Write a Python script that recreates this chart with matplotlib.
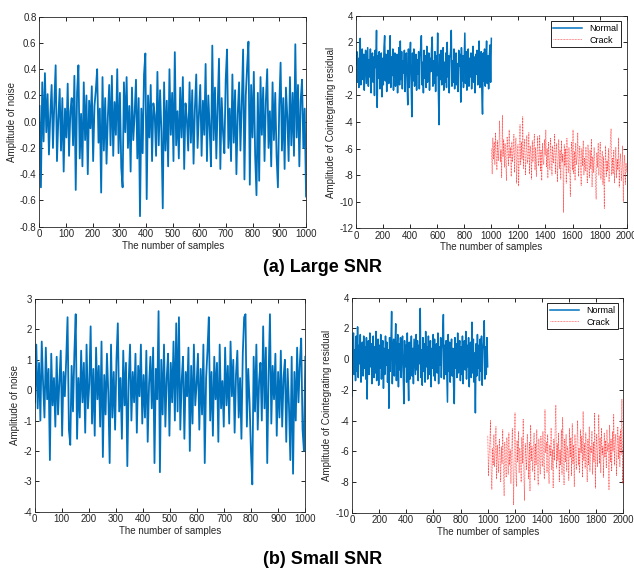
import numpy as np
import matplotlib.pyplot as plt

plt.rcParams['font.family'] = ['Liberation Sans', 'DejaVu Sans']
plt.rcParams['axes.unicode_minus'] = False

# (a) large SNR: raw noise
noise_a = [
    0.12, -0.50, 0.30, -0.15, 0.37, -0.08, 0.21, -0.25, 0.05, 0.28, -0.20, 0.14, 0.43, -0.30, 0.02, 0.25, -0.22, 0.18, -0.38, 0.10,
    -0.12, 0.29, -0.26, 0.08, 0.18, -0.18, 0.35, -0.52, 0.22, 0.43, -0.28, 0.06, -0.34, 0.30, -0.14, 0.20, -0.40, 0.16, -0.05, 0.27,
    -0.30, 0.12, 0.24, 0.40, -0.16, 0.10, -0.54, 0.34, -0.22, 0.18, -0.32, 0.04, 0.28, -0.18, 0.35, -0.26, 0.15, -0.10, 0.40, -0.24,
    0.22, -0.35, -0.50, 0.30, -0.08, 0.34, -0.20, 0.12, -0.38, 0.26, -0.14, 0.06, 0.32, -0.28, 0.18, -0.72, 0.10, -0.24, 0.36, 0.52,
    -0.59, 0.20, -0.12, 0.28, -0.30, 0.14, 0.05, -0.26, 0.38, -0.18, 0.24, -0.08, -0.66, 0.30, -0.22, 0.16, -0.34, 0.40, -0.10, 0.22,
    -0.30, 0.53, -0.18, 0.08, -0.28, 0.26, -0.12, 0.34, -0.36, 0.14, 0.02, -0.22, 0.30, -0.16, 0.24, -0.32, 0.10, 0.36, -0.20, 0.06,
    0.28, -0.26, 0.16, -0.10, 0.44, -0.30, 0.20, -0.04, -0.34, 0.58, -0.14, 0.26, -0.28, 0.12, 0.48, -0.36, 0.18, -0.08, -0.24, 0.32,
    0.55, -0.20, 0.10, -0.30, 0.36, -0.16, 0.24, -0.40, 0.06, 0.30, -0.22, 0.14, 0.55, -0.44, 0.20, 0.42, 0.61, -0.48, 0.28, -0.12,
    0.38, -0.26, -0.56, 0.22, -0.45, 0.34, -0.10, 0.26, -0.30, 0.16, 0.40, -0.20, 0.08, -0.34, 0.30, -0.14, 0.22, -0.26, -0.50, 0.12,
    0.45, -0.22, 0.18, -0.36, 0.26, 0.04, -0.30, 0.34, -0.18, 0.22, -0.26, 0.59, -0.12, 0.28, -0.34, 0.16, 0.32, -0.20, 0.10, -0.57,
]

# (a) cointegrating residual, normal state
resid_a_normal = [
    0.4, 1.3, -1.0, 0.8, -1.4, 0.9, 2.3, -1.2, 0.3, 1.5, -0.8, 1.1, -1.6, 0.6, 1.4, -1.1, 0.2, 1.6, -1.3, 0.7,
    -0.6, 1.5, -1.8, 0.4, 1.2, -1.0, 0.9, -2.0, 1.4, 0.1, 2.9, -2.9, 1.0, -0.7, 1.3, -1.5, 0.5, 1.2, -2.1, 0.8,
    -1.2, 1.6, 2.5, -0.9, 1.1, -1.7, 0.6, 1.4, -1.1, 0.2, 2.5, -1.4, 0.9, -0.5, 1.5, -1.6, 0.7, 1.2, -1.3, 0.4,
    1.1, -1.8, 0.5, 1.6, -1.2, 2.1, -0.8, 1.3, -1.5, 0.6, -0.3, 1.4, -1.7, 0.9, 1.2, -1.0, -2.7, 1.5, -1.4, 0.8,
    2.0, -1.1, -3.6, 1.2, -0.9, 1.5, -1.3, 0.4, 1.1, -1.6, 0.7, -0.4, 1.3, -1.5, 0.9, 1.6, 2.5, -1.2, 0.5, -1.8,
    1.4, -0.7, 1.0, -1.4, 1.7, -1.0, 0.3, 1.2, -1.6, 0.8, -0.2, 1.5, 2.4, -1.3, 0.6, -1.1, 1.3, -1.7, 1.0, -0.5,
    2.7, -1.5, -4.2, 1.1, -0.8, 1.4, -1.2, 0.7, 1.6, -1.6, 0.5, -1.0, 1.2, -1.4, 2.0, -0.6, 1.0, -1.8, 0.8, 1.3,
    2.9, -1.3, 0.6, -1.0, 1.5, -1.5, 0.9, 1.2, -1.2, 0.4, -1.7, 1.4, 0.2, 1.1, -2.5, 1.6, -0.9, 1.0, -1.4, 0.7,
    2.7, -1.1, 1.3, -1.6, 0.5, 1.5, -1.3, 0.8, -0.6, 1.2, -1.5, 0.6, 1.7, -1.0, 0.9, -1.8, 1.1, -0.4, 1.4, -1.2,
    0.8, 2.1, -1.4, 0.5, 1.3, -1.6, -3.4, 1.2, -0.9, 1.5, -1.3, 0.6, 2.1, -1.1, 1.0, -1.5, 0.9, 1.8, -1.0, 2.3,
]

# (a) cointegrating residual, cracked state
resid_a_crack = [
    -6.0, -7.9, -5.2, -6.8, -5.5, -7.2, -4.8, -6.5, -7.6, -5.4, -6.9, -5.8, -3.9, -7.0, -6.1, -8.2, -3.5, -6.6, -5.3, -7.4,
    -5.6, -6.9, -8.4, -5.1, -6.2, -7.3, -4.6, -6.7, -5.9, -8.1, -5.5, -7.0, -6.3, -4.9, -7.8, -6.0, -5.2, -8.6, -6.5, -5.7,
    -8.8, -6.1, -4.2, -7.2, -5.5, -6.8, -3.6, -7.5, -6.0, -5.3, -8.0, -6.4, -5.0, -7.1, -6.7, -4.8, -7.9, -5.8, -6.3, -8.3,
    -5.4, -7.0, -6.2, -4.9, -7.6, -5.9, -8.1, -6.4, -5.1, -7.3, -6.8, -5.0, -7.7, -6.1, -8.4, -5.6, -6.9, -7.2, -5.3, -6.5,
    -4.6, -7.4, -6.0, -8.2, -5.5, -6.9, -7.6, -5.2, -6.6, -8.0, -5.8, -7.1, -6.3, -4.9, -7.9, -6.2, -5.6, -8.5, -6.8, -5.3,
    -7.5, -6.1, -8.3, -5.4, -7.0, -6.4, -10.8, -5.7, -7.3, -6.0, -8.6, -5.2, -6.8, -7.8, -5.9, -7.1, -9.6, -6.3, -5.5, -7.6,
    -4.6, -7.9, -6.2, -8.4, -5.6, -7.2, -6.6, -4.8, -8.1, -6.9, -5.8, -7.5, -8.8, -6.0, -7.3, -5.4, -8.0, -6.7, -7.7, -5.9,
    -7.2, -8.6, -5.7, -6.8, -8.2, -6.1, -7.5, -5.3, -8.9, -6.6, -7.8, -5.9, -7.0, -8.4, -9.8, -6.3, -7.4, -5.6, -8.0, -6.9,
    -5.5, -8.3, -7.0, -6.2, -8.7, -6.6, -10.5, -7.4, -5.8, -8.1, -6.9, -7.7, -6.0, -8.5, -7.2, -5.4, -4.5, -8.0, -6.7, -7.9,
    -6.1, -8.6, -7.3, -5.9, -8.2, -6.8, -7.6, -5.2, -8.9, -7.0, -6.4, -8.4, -7.5, -5.8, -10.0, -7.2, -6.5, -8.7, -7.1, -7.8,
]

# (b) small SNR: raw noise
noise_b = [
    -0.4, 1.5, -0.6, 0.9, -1.0, 1.6, 0.2, -0.9, 1.4, -0.3, 0.7, -2.3, 1.2, -0.5, 0.4, -1.2, 1.1, -0.8, 0.3, 1.3,
    -1.5, 0.6, -0.2, 1.0, 2.4, -1.3, -1.8, 0.8, -0.7, 1.2, 2.5, -1.6, 0.4, -0.9, 1.3, -0.4, 0.9, -1.4, 1.5, -0.6,
    0.2, 2.1, -1.1, 0.7, -1.5, 1.4, -0.3, 0.8, -1.2, 1.6, -2.2, 0.5, -0.8, 1.2, -0.1, -2.4, 1.5, -0.9, 0.6, -1.3,
    1.0, 2.2, -0.7, 0.4, -1.6, 1.3, -0.5, 0.9, -2.5, 0.3, 1.5, -1.0, 0.6, -0.4, 1.2, -1.4, 0.8, -0.2, 1.5, -1.1,
    0.5, -0.9, 1.3, -1.7, 0.2, 1.1, -0.6, 1.4, -2.4, 0.7, -0.3, 2.6, -2.7, 1.0, -0.8, 1.5, -1.2, 0.4, 1.2, -1.5,
    0.9, -0.4, 1.6, -1.0, 2.2, -0.7, 2.4, -1.3, 0.3, 1.1, -1.6, 0.6, -0.2, 1.4, -2.0, 0.8, -1.1, 1.5, -0.5, 0.2,
    1.2, -1.3, 0.7, -0.8, 1.5, -2.4, 0.4, 1.3, 2.4, -1.0, 0.6, -1.5, 1.1, -0.3, 0.9, -1.7, 1.5, -0.6, 0.3, -1.2,
    1.4, -0.5, 0.8, -1.1, 1.6, -0.2, 1.0, -1.4, 0.5, 1.3, -0.9, 0.4, -1.6, 1.2, 2.4, 2.5, -1.2, 0.7, -0.4, -2.0,
    -3.1, 1.1, -0.7, 1.5, -1.3, 0.3, 0.9, -1.0, 2.1, -0.6, 1.4, -2.4, 0.5, 2.5, -1.1, 0.8, -0.3, 1.2, -1.5, 0.6,
    -0.9, 1.3, -1.2, 0.4, 1.0, -1.7, 0.7, -0.5, -2.3, 1.1, -2.75, 0.6, -1.0, 1.4, -0.4, 0.9, 1.7, -1.3, -2.0, 1.1,
]

# (b) cointegrating residual, normal state
resid_b_normal = [
    -2.4, 1.2, 1.7, -1.0, 0.6, -1.4, 1.5, -0.8, 2.1, -1.2, 0.9, -0.3, 1.6, -1.5, 0.4, 1.1, -1.1, 1.5, -0.6, 0.8,
    -1.3, 1.4, -2.6, 0.7, 1.2, -1.0, 1.7, -0.5, 1.0, -1.6, 0.3, 1.5, -1.2, 0.8, -0.9, 1.8, -1.4, 0.5, 1.3, -1.7,
    0.9, -0.6, 1.6, -1.3, 0.2, 1.2, -1.9, 0.7, -1.0, 1.5, -0.4, 1.1, -1.5, 0.6, -3.2, 1.4, -0.8, 1.0, 3.1, -1.6,
    0.5, 1.3, -1.1, 0.8, 2.3, -1.4, 0.3, 1.6, -1.8, 1.0, -0.7, 1.4, -1.2, 0.6, 1.5, -1.0, -2.9, 1.2, -0.5, 0.9,
    -1.5, 1.7, -0.9, -2.7, 1.1, -1.3, 0.4, 1.5, -1.1, 0.7, -1.6, 1.3, 0.2, -1.0, 1.6, -0.7, 1.2, -1.4, 0.9, -0.3,
    3.3, -1.2, 0.6, -1.7, 1.4, -0.8, 1.0, -1.5, 1.8, -0.5, 0.8, -1.3, 1.5, -1.0, 0.3, 1.2, -1.8, 0.7, -0.6, 1.6,
    -1.1, 1.3, -1.4, 0.5, 1.0, -0.9, 1.7, -1.6, 0.8, -0.4, 1.4, -1.2, 0.6, 1.5, 2.9, -1.3, 0.9, -1.0, 1.2, -0.7,
    -2.8, 1.6, -0.8, 1.1, -1.5, 0.4, 1.3, -1.1, 0.7, -1.7, -2.9, 1.4, -0.6, 1.0, -1.2, 1.7, -0.9, 0.5, 1.2, -1.4,
    0.8, -1.0, 1.5, -1.6, 0.6, 1.2, -0.7, 1.8, -1.3, 0.9, -0.5, 1.4, -1.8, 0.7, 1.1, -1.2, 2.4, -0.9, 1.3, -1.5,
    0.4, -3.5, 1.0, -1.1, 1.6, -0.6, 0.9, -1.4, 1.3, -0.8, 1.5, -1.7, 0.6, 1.1, 2.5, -1.3, 0.8, -1.0, 1.4, -0.5,
]

# (b) cointegrating residual, cracked state
resid_b_crack = [
    -5.0, -7.6, -6.2, -5.5, -4.0, -7.3, -8.5, -5.8, -6.9, -4.9, -7.0, -6.1, -4.4, -7.8, -5.6, -6.6, -7.4, -5.2, -6.3, -8.0,
    -5.7, -6.8, -4.6, -7.2, -8.9, -5.4, -6.5, -7.7, -5.1, -6.0, -7.5, -4.8, -6.9, -5.9, -8.1, -6.3, -4.5, -7.1, -9.5, -5.6,
    -3.5, -7.0, -8.3, -5.3, -6.7, -4.7, -7.4, -5.8, -6.2, -8.0, -5.1, -6.8, -3.9, -7.6, -9.2, -5.5, -6.4, -7.2, -4.9, -6.1,
    -7.8, -5.4, -8.6, -4.3, -6.6, -5.7, -7.3, -6.0, -4.8, -7.9, -5.5, -6.9, -4.6, -7.1, -8.2, -5.2, -6.4, -7.5, -5.0, -6.2,
    -7.0, -4.7, -6.5, -7.8, -3.3, -6.1, -5.4, -7.4, -4.9, -6.8, -8.1, -5.6, -6.3, -4.5, -7.2, -5.9, -8.4, -5.2, -6.6, -4.4,
    -3.0, -7.1, -5.5, -6.6, -4.8, -8.0, -5.9, -6.9, -4.6, -7.5, -3.8, -6.3, -8.2, -5.2, -6.7, -4.9, -7.3, -5.7, -6.0, -7.9,
    -4.5, -6.4, -5.1, -7.6, -4.2, -6.8, -5.6, -8.3, -4.9, -6.2, -7.2, -5.3, -4.0, -6.9, -5.8, -7.4, -4.6, -6.1, -5.0, -7.7,
    -3.4, -6.6, -5.5, -7.1, -4.8, -6.3, -8.0, -5.2, -6.9, -4.4, -7.3, -5.7, -6.1, -4.7, -7.5, -5.4, -6.7, -3.5, -8.4, -5.9,
    -4.9, -7.0, -5.6, -3.6, -6.8, -5.1, -7.4, -4.5, -6.2, -5.7, -7.7, -4.8, -6.4, -5.3, -7.1, -4.6, -6.0, -5.5, -8.5, -4.3,
    -6.7, -5.2, -7.3, -4.7, -6.0, -3.6, -6.9, -5.4, -4.9, -7.6, -5.8, -4.4, -6.5, -5.0, -7.0, -4.6, -6.2, -2.6, -8.1, -5.3,
]

blue = '#0072BD'
txt = '#262626'

fig = plt.figure(figsize=(6.34, 5.76), dpi=100)
ax1 = fig.add_axes([0.062, 0.6064, 0.4207, 0.3646])
ax2 = fig.add_axes([0.5615, 0.6036, 0.427, 0.369])
ax3 = fig.add_axes([0.0547, 0.1116, 0.4268, 0.3693])
ax4 = fig.add_axes([0.5552, 0.1099, 0.4279, 0.3733])


def style(ax, ylabel):
    ax.tick_params(direction='in', top=True, right=True, length=3, width=0.6,
                   labelsize=7, labelcolor=txt, pad=2)
    for s in ax.spines.values():
        s.set_linewidth(0.6)
        s.set_color(txt)
    ax.set_xlabel('The number of samples', fontsize=7, color=txt, labelpad=1)
    ax.set_ylabel(ylabel, fontsize=7, color=txt, labelpad=2)


def noise_panel(ax, vals, ylim, yticks):
    x = np.linspace(1, 1000, len(vals))
    ax.plot(x, vals, color=blue, lw=1.3)
    ax.set_xlim(0, 1000)
    ax.set_ylim(*ylim)
    ax.set_xticks(np.arange(0, 1001, 100))
    ax.set_yticks(yticks)
    style(ax, 'Amplitude of noise')


def resid_panel(ax, normal, crack, ylim):
    xn = np.linspace(1, 1000, len(normal))
    xc = np.linspace(1001, 2000, len(crack))
    ax.plot(xn, normal, color=blue, lw=1.1, label='Normal')
    ax.plot(xc, crack, color='#ff2020', lw=0.5, alpha=0.85, ls=(0, (1.2, 1)),
            label='Crack')
    ax.set_xlim(0, 2000)
    ax.set_ylim(*ylim)
    ax.set_xticks(np.arange(0, 2001, 200))
    ax.set_yticks(np.arange(ylim[0], ylim[1] + 1, 2))
    style(ax, 'Amplitude of Cointegrating residual')
    leg = ax.legend(loc='upper right', fontsize=6.5, fancybox=False,
                    edgecolor='black', framealpha=1, borderaxespad=0.6,
                    handlelength=3.2, borderpad=0.3, labelspacing=0.3)
    leg.get_frame().set_linewidth(0.6)


noise_panel(ax1, noise_a, (-0.8, 0.8), np.round(np.arange(-0.8, 0.81, 0.2), 1))
resid_panel(ax2, resid_a_normal, resid_a_crack, (-12, 4))
noise_panel(ax3, noise_b, (-4, 3), np.arange(-4, 4, 1))
resid_panel(ax4, resid_b_normal, resid_b_crack, (-10, 4))

fig.text(0.509, 0.535, '(a) Large SNR', ha='center', va='center',
         fontsize=13, fontweight='bold')
fig.text(0.509, 0.028, '(b) Small SNR', ha='center', va='center',
         fontsize=13, fontweight='bold')

fig.savefig('out.png', dpi=100)
